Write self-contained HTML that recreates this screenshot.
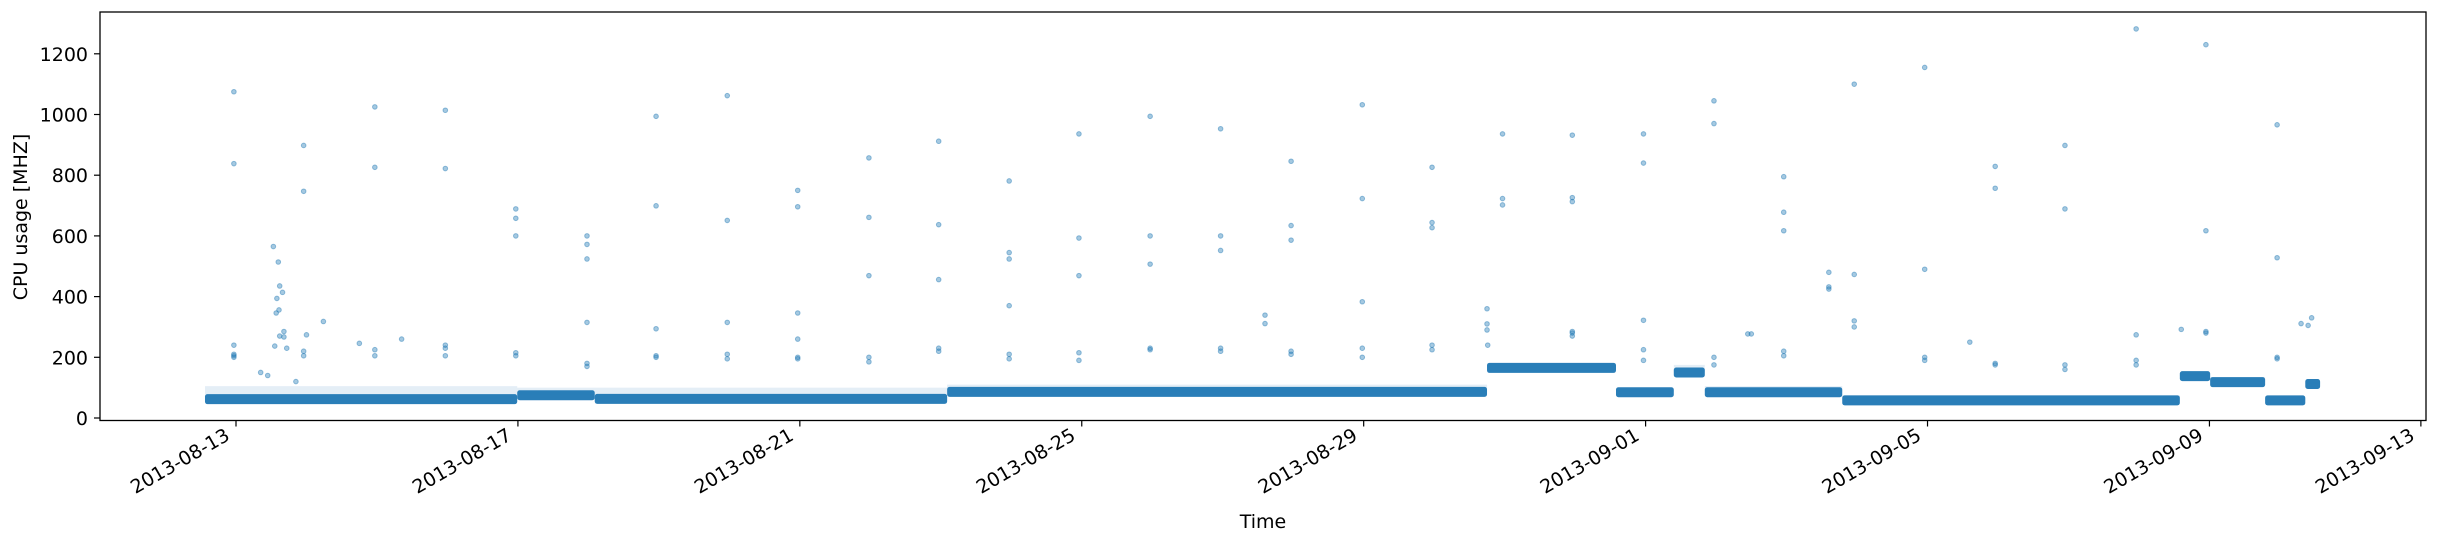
<!DOCTYPE html>
<html><head><meta charset="utf-8"><style>
html,body{margin:0;padding:0;background:#fff;}
svg{display:block;font-family:"DejaVu Sans","Liberation Sans",sans-serif;}
</style></head><body>
<svg id="chart" width="2437" height="544" viewBox="0 0 2437 544">
<rect x="0" y="0" width="2437" height="544" fill="#fff"/>
<g id="bands"></g>
<g id="points"></g>
<rect x="100" y="12" width="2326" height="408.5" fill="none" stroke="#000" stroke-width="1.3"/>
<g id="yaxis"></g>
<g id="xaxis"></g>
<text x="1263" y="528" font-size="19" text-anchor="middle">Time</text>
<text transform="translate(27,217) rotate(-90)" font-size="19" text-anchor="middle">CPU usage [MHZ]</text>
</svg>
<script>
// Data (days relative to 2013-08-13 00:00)
const segStart = [-0.44, 3.99, 5.09, 10.09, 17.75, 19.58, 20.40, 20.84, 22.79, 27.58, 28.01, 28.79, 29.36];
const segEnd   = [ 3.99, 5.09, 10.09, 17.75, 19.58, 20.40, 20.84, 22.79, 27.58, 28.01, 28.79, 29.36, 29.57];
const segLevel = [62, 75, 63, 86, 165, 85, 150, 85, 58, 138, 118, 58, 112];
const segSpread = [105, 100, 100, 110, 180, 95, 175, 105, 75, 145, 135, 65, 120];

const outDays = [
 -0.03,-0.03,-0.03,-0.03,-0.03,-0.03,
 0.53,0.60,0.62,0.66,0.58,0.61,0.57,1.24,0.68,0.62,0.68,1.0,0.55,0.72,1.75,2.35,0.35,0.45,0.85,
 0.96,0.96,0.96,0.96,
 1.97,1.97,1.97,1.97,
 2.97,2.97,2.97,2.97,2.97,
 3.97,3.97,3.97,3.97,3.97,
 4.98,4.98,4.98,4.98,4.98,4.98,
 5.96,5.96,5.96,5.96,5.96,
 6.97,6.97,6.97,6.97,6.97,
 7.97,7.97,7.97,7.97,7.97,7.97,
 8.98,8.98,8.98,8.98,8.98,
 9.97,9.97,9.97,9.97,9.97,
 10.97,10.97,10.97,10.97,10.97,10.97,
 11.96,11.96,11.96,11.96,11.96,
 12.97,12.97,12.97,12.97,12.97,
 13.97,13.97,13.97,13.97,13.97,
 14.97,14.97,14.97,14.97,14.97,14.6,14.6,
 15.98,15.98,15.98,15.98,15.98,
 16.97,16.97,16.97,16.97,16.97,
 17.97,17.97,17.97,17.75,17.75,17.75,17.76,
 18.96,18.96,18.96,18.96,18.96,18.96,
 19.97,19.97,19.97,19.97,19.97,
 20.97,20.97,20.97,20.97,21.45,21.5,
 21.96,21.96,21.96,21.96,21.96,
 22.96,22.96,22.6,22.6,22.6,22.96,22.96,
 23.96,23.96,23.96,23.96,
 24.96,24.96,24.96,24.96,24.6,
 25.95,25.95,25.95,25.95,
 26.96,26.96,26.96,26.96,
 27.95,27.95,27.95,27.95,27.6,
 28.96,28.96,28.96,28.96,29.3,29.4,29.45
];
const outVals = [
 1075,838,240,210,205,200,
 565,514,435,414,394,356,346,318,285,270,267,274,237,230,246,260,150,140,120,
 898,747,220,205,
 1025,826,225,205,
 1014,822,240,230,205,
 689,658,600,215,205,
 600,572,524,315,180,170,
 994,699,294,205,200,
 1062,651,315,210,195,
 750,696,346,260,200,195,
 857,661,469,200,185,
 912,637,456,230,220,
 781,545,524,370,210,195,
 936,593,469,215,190,
 994,600,507,230,225,
 953,600,552,230,220,
 846,634,586,220,210,339,311,
 1032,723,383,230,200,
 826,644,627,240,225,
 936,723,702,360,310,290,240,
 932,726,713,285,280,270,
 936,840,322,225,190,
 1045,970,200,175,277,277,
 795,678,617,220,205,
 1100,473,480,432,425,320,300,
 1155,490,200,190,
 829,757,180,175,250,
 898,689,175,160,
 1282,274,190,175,
 1230,617,285,280,292,
 966,528,200,195,311,305,330
];
const yTicks = [0, 200, 400, 600, 800, 1000, 1200];
const xTickDays = [0, 4, 8, 12, 16, 20, 24, 28, 31];
const xTickLabels = ["2013-08-13","2013-08-17","2013-08-21","2013-08-25","2013-08-29","2013-09-01","2013-09-05","2013-09-09","2013-09-13"];

const NS = "http://www.w3.org/2000/svg";
const X0 = 236, PXDAY = 70.48, Y0 = 418, PXV = 0.3035;
function xs(d){ return X0 + d * PXDAY; }
function ys(v){ return Y0 - v * PXV; }
function mk(tag, attrs, parent){ const e = document.createElementNS(NS, tag); for (const k in attrs) e.setAttribute(k, attrs[k]); parent.appendChild(e); return e; }

const bands = document.getElementById('bands');
for (let i = 0; i < segStart.length; i++) {
  const x1 = xs(segStart[i]), x2 = xs(segEnd[i]);
  const light = mk('rect', {x: x1, y: ys(segSpread[i]), width: x2 - x1, height: ys(segLevel[i]) - ys(segSpread[i]), fill: '#1f77b4', 'fill-opacity': 0.12}, bands);
  
  
  const core = mk('rect', {x: x1, y: ys(segLevel[i]) - 5, width: x2 - x1, height: 10, fill: '#1f77b4', 'fill-opacity': 0.95, rx: 2.5}, bands);
  
  
}

const pts = document.getElementById('points');
for (let i = 0; i < outDays.length; i++) {
  const c = mk('circle', {cx: xs(outDays[i]), cy: ys(outVals[i]), r: 2.3, fill: '#1f77b4', 'fill-opacity': 0.4, stroke: '#1f77b4', 'stroke-opacity': 0.45, 'stroke-width': 1}, pts);
  
  
}

const ya = document.getElementById('yaxis');
yTicks.forEach(v => {
  const t = mk('line', {x1: 94, x2: 100, y1: ys(v), y2: ys(v), stroke: '#000', 'stroke-width': 1.2}, ya);
  
  
  const l = mk('text', {x: 88, y: ys(v) + 7, 'font-size': 19, 'text-anchor': 'end'}, ya);
  l.textContent = String(v);
  
  
});

const xa = document.getElementById('xaxis');
xTickDays.forEach((d, i) => {
  const x = xs(d);
  const t = mk('line', {x1: x, x2: x, y1: 420.5, y2: 426.5, stroke: '#000', 'stroke-width': 1.2}, xa);
  
  
  const l = mk('text', {x: x - 5, y: 439, 'font-size': 19, 'text-anchor': 'end', transform: 'rotate(-30 ' + (x - 5) + ' 439)'}, xa);
  l.textContent = xTickLabels[i];
  
  
});
</script>
</body></html>
